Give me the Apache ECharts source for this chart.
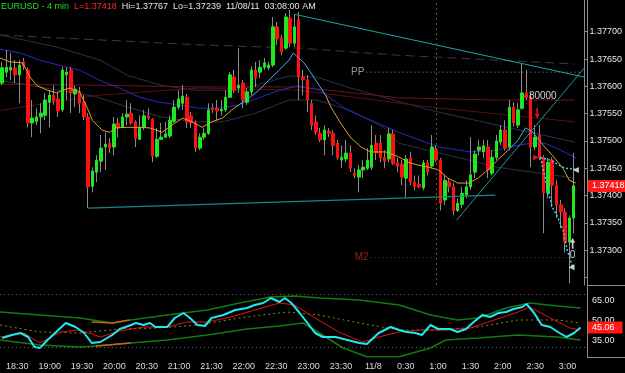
<!DOCTYPE html>
<html><head><meta charset="utf-8">
<script src="https://cdn.jsdelivr.net/npm/echarts@6/dist/echarts.min.js"></script>
<style>html,body{margin:0;padding:0;background:#000;}#c{width:625px;height:373px;}</style>
</head><body><div id="c"></div>
<script>
// ---- candle data: [open, close, low, high], 4-minute bars starting 18:16 ----
const START_MIN = 1096;   // 18:16 (minutes from midnight of 11/07)
const STEP_MIN = 4;
const EMPTY_SLOTS = 2;
const ohlc = [
[1.37606,1.37634,1.37602,1.37645],[1.37626,1.37635,1.37617,1.37667],[1.37630,1.37635,1.37612,1.37661],
[1.37634,1.37621,1.37606,1.37648],[1.37621,1.37639,1.37569,1.37648],[1.37645,1.37637,1.37630,1.37652],
[1.37630,1.37533,1.37525,1.37634],[1.37533,1.37542,1.37507,1.37575],[1.37536,1.37544,1.37529,1.37560],
[1.37544,1.37551,1.37514,1.37569],[1.37547,1.37575,1.37538,1.37588],[1.37571,1.37584,1.37525,1.37593],
[1.37584,1.37573,1.37566,1.37602],[1.37577,1.37555,1.37544,1.37590],[1.37557,1.37630,1.37553,1.37635],
[1.37621,1.37626,1.37575,1.37635],[1.37630,1.37588,1.37551,1.37635],[1.37586,1.37595,1.37562,1.37602],
[1.37590,1.37569,1.37551,1.37599],[1.37571,1.37544,1.37538,1.37584],[1.37544,1.37416,1.37377,1.37551],
[1.37417,1.37445,1.37406,1.37452],[1.37443,1.37465,1.37425,1.37474],[1.37463,1.37487,1.37443,1.37511],
[1.37489,1.37494,1.37447,1.37516],[1.37496,1.37487,1.37478,1.37505],[1.37489,1.37531,1.37474,1.37544],
[1.37533,1.37524,1.37507,1.37542],[1.37525,1.37544,1.37524,1.37551],[1.37544,1.37549,1.37529,1.37575],
[1.37551,1.37533,1.37529,1.37569],[1.37535,1.37505,1.37489,1.37538],[1.37503,1.37525,1.37502,1.37547],
[1.37525,1.37546,1.37520,1.37557],[1.37546,1.37542,1.37538,1.37560],[1.37540,1.37472,1.37461,1.37542],
[1.37472,1.37503,1.37469,1.37524],[1.37503,1.37507,1.37502,1.37533],[1.37507,1.37513,1.37505,1.37535],
[1.37509,1.37538,1.37505,1.37547],[1.37536,1.37562,1.37533,1.37575],[1.37562,1.37577,1.37557,1.37593],
[1.37569,1.37582,1.37557,1.37602],[1.37580,1.37535,1.37524,1.37586],[1.37546,1.37533,1.37524,1.37553],
[1.37533,1.37487,1.37480,1.37538],[1.37487,1.37507,1.37483,1.37514],[1.37507,1.37514,1.37502,1.37524],
[1.37514,1.37557,1.37511,1.37569],[1.37560,1.37557,1.37551,1.37569],[1.37560,1.37555,1.37538,1.37575],
[1.37555,1.37558,1.37547,1.37575],[1.37557,1.37580,1.37553,1.37593],[1.37580,1.37621,1.37579,1.37626],
[1.37617,1.37593,1.37588,1.37630],[1.37597,1.37602,1.37588,1.37670],[1.37606,1.37575,1.37560,1.37612],
[1.37571,1.37590,1.37566,1.37597],[1.37590,1.37630,1.37584,1.37637],[1.37630,1.37615,1.37599,1.37645],
[1.37626,1.37635,1.37615,1.37648],[1.37635,1.37643,1.37630,1.37652],[1.37634,1.37639,1.37630,1.37645],
[1.37639,1.37709,1.37635,1.37727],[1.37709,1.37687,1.37676,1.37718],[1.37689,1.37663,1.37657,1.37694],
[1.37670,1.37727,1.37667,1.37734],[1.37725,1.37679,1.37672,1.37740],[1.37679,1.37709,1.37672,1.37732],
[1.37722,1.37617,1.37575,1.37736],[1.37617,1.37612,1.37584,1.37630],[1.37612,1.37575,1.37553,1.37621],
[1.37569,1.37529,1.37520,1.37575],[1.37535,1.37516,1.37511,1.37547],[1.37514,1.37502,1.37498,1.37524],
[1.37502,1.37520,1.37474,1.37529],[1.37518,1.37514,1.37507,1.37524],[1.37514,1.37492,1.37474,1.37520],
[1.37496,1.37469,1.37465,1.37502],[1.37465,1.37470,1.37450,1.37492],[1.37467,1.37478,1.37461,1.37502],
[1.37478,1.37450,1.37443,1.37492],[1.37441,1.37437,1.37432,1.37450],[1.37434,1.37447,1.37406,1.37456],
[1.37447,1.37452,1.37432,1.37465],[1.37450,1.37465,1.37447,1.37487],[1.37452,1.37492,1.37447,1.37529],
[1.37496,1.37478,1.37465,1.37511],[1.37496,1.37469,1.37461,1.37511],[1.37470,1.37463,1.37450,1.37483],
[1.37467,1.37513,1.37461,1.37524],[1.37513,1.37459,1.37456,1.37520],[1.37460,1.37454,1.37443,1.37469],
[1.37458,1.37434,1.37419,1.37465],[1.37432,1.37467,1.37397,1.37474],[1.37469,1.37425,1.37419,1.37480],
[1.37425,1.37417,1.37410,1.37437],[1.37421,1.37416,1.37414,1.37437],[1.37414,1.37460,1.37410,1.37465],
[1.37460,1.37443,1.37437,1.37465],[1.37454,1.37489,1.37450,1.37511],[1.37485,1.37465,1.37461,1.37492],
[1.37465,1.37386,1.37373,1.37469],[1.37392,1.37428,1.37383,1.37438],[1.37425,1.37416,1.37406,1.37432],
[1.37416,1.37372,1.37364,1.37423],[1.37373,1.37386,1.37370,1.37395],[1.37384,1.37404,1.37377,1.37416],
[1.37401,1.37416,1.37395,1.37428],[1.37416,1.37438,1.37410,1.37507],[1.37443,1.37476,1.37432,1.37483],
[1.37483,1.37489,1.37474,1.37502],[1.37480,1.37491,1.37469,1.37502],[1.37489,1.37447,1.37432,1.37502],
[1.37441,1.37470,1.37437,1.37483],[1.37470,1.37500,1.37465,1.37511],[1.37498,1.37520,1.37492,1.37529],
[1.37520,1.37487,1.37483,1.37538],[1.37489,1.37562,1.37483,1.37575],[1.37562,1.37533,1.37527,1.37571],
[1.37529,1.37557,1.37524,1.37569],[1.37560,1.37588,1.37557,1.37641],[1.37588,1.37580,1.37575,1.37630],
[1.37580,1.37489,1.37452,1.37588],[1.37489,1.37507,1.37483,1.37529],[1.37511,1.37470,1.37465,1.37529],
[1.37470,1.37405,1.37331,1.37474],[1.37405,1.37461,1.37395,1.37469],[1.37465,1.37419,1.37379,1.37470],
[1.37419,1.37383,1.37359,1.37428],[1.37383,1.37370,1.37340,1.37392],[1.37370,1.37315,1.37296,1.37377],
[1.37315,1.37359,1.37240,1.37364],[1.37359,1.37418,1.37331,1.37478]
];

// ---- price-pane indicator lines: [minute, price] ----
const ma20Orange1 = [[1094,1.37652],[1103,1.37645],[1115,1.37643],[1122,1.37617],[1128,1.37602],[1138,1.37593],[1147,1.37588],[1152,1.37593],[1159,1.37597],[1168,1.37590],[1175,1.37562],[1180,1.37538],[1189,1.37520],[1196,1.37516],[1202,1.37524],[1212,1.37525],[1224,1.37525],[1233,1.37524],[1245,1.37516],[1254,1.37529],[1264,1.37542],[1273,1.37535],[1282,1.37525],[1291,1.37535],[1301,1.37542],[1310,1.37557],[1316,1.37566]];
const ma20Blue1 = [[1316,1.37566],[1326,1.37579],[1335,1.37593],[1344,1.37611],[1354,1.37630],[1363,1.37648],[1367,1.37661],[1377,1.37643],[1386,1.37617],[1392,1.37599],[1397,1.37584]];
const ma20Orange2 = [[1397,1.37584],[1402,1.37562],[1411,1.37533],[1420,1.37507],[1430,1.37489],[1439,1.37480],[1453,1.37480],[1465,1.37471],[1474,1.37461],[1483,1.37456],[1493,1.37452],[1502,1.37447],[1511,1.37432],[1520,1.37423],[1530,1.37423],[1539,1.37432],[1548,1.37447],[1557,1.37465],[1569,1.37487]];
const ma20Blue2 = [[1569,1.37487],[1576,1.37501],[1583,1.37524],[1590,1.37516],[1596,1.37501],[1601,1.37489]];
const ma20Orange3 = [[1601,1.37489],[1608,1.37474],[1618,1.37450],[1624,1.37428],[1630,1.37423]];
const ma50 = [[1094,1.37668],[1113,1.37661],[1131,1.37648],[1156,1.37635],[1168,1.37630],[1187,1.37611],[1205,1.37597],[1224,1.37580],[1242,1.37571],[1261,1.37566],[1279,1.37560],[1298,1.37560],[1316,1.37566],[1335,1.37579],[1354,1.37593],[1372,1.37601],[1391,1.37593],[1418,1.37556],[1465,1.37516],[1502,1.37489],[1532,1.37480],[1557,1.37483],[1573,1.37491],[1588,1.37496],[1601,1.37496],[1616,1.37483],[1630,1.37469]];
const maLongDashed = [[1094,1.37694],[1187,1.37685],[1279,1.37676],[1372,1.37670],[1465,1.37657],[1557,1.37648],[1629,1.37641]];
const bandUpper = [[1094,1.37694],[1147,1.37672],[1187,1.37648],[1213,1.37620],[1244,1.37602],[1275,1.37593],[1316,1.37593],[1363,1.37619],[1389,1.37617],[1420,1.37597],[1451,1.37580],[1495,1.37556],[1557,1.37529],[1629,1.37498]];
const bandLower = [[1094,1.37611],[1182,1.37582],[1213,1.37562],[1244,1.37544],[1275,1.37535],[1301,1.37535],[1332,1.37551],[1363,1.37575],[1389,1.37575],[1420,1.37556],[1451,1.37525],[1465,1.37496],[1557,1.37452],[1629,1.37432]];
const maroonFlat = [[1094,1.37604],[1187,1.37602],[1279,1.37599],[1372,1.37599],[1465,1.37579],[1557,1.37575],[1629,1.37575]];
const maroonRise = [[1094,1.37556],[1187,1.37584],[1279,1.37597],[1372,1.37593],[1495,1.37562],[1629,1.37535]];

// ---- drawn objects ----
const trendTop = [[1368,1.37732],[1638,1.37617]];
const trendRise = [[1519,1.37355],[1638,1.37634]];
const trendBottom = [[1176,1.37377],[1555,1.37401]];
const zigA = [[1597,1.37470],[1606,1.37465],[1620,1.37450],[1629,1.37449]];
const zigB = [[1597,1.37470],[1604,1.37410],[1608,1.37379],[1613,1.37361],[1618,1.37337],[1622,1.37300],[1627,1.37269]];
const pivotPP = {price:1.37626, from:1435, to:1634, label:'PP'};
const pivotM2 = {price:1.37287, from:1439, to:1622, label:'M2'};
const sessionLine = 1500;
const lastPrice = 1.37418;

// ---- oscillator pane ----
const oscFast = [[1096,37.25],[1105,39.5],[1113,41],[1120,38],[1126,30.5],[1131,29.75],[1138,35.75],[1146,41.75],[1155,48.5],[1164,45.5],[1172,41],[1179,33.5],[1187,34.25],[1198,39.5],[1205,44],[1213,46.25],[1220,48.5],[1227,47],[1233,48.5],[1238,45.5],[1249,45.5],[1256,52.25],[1264,56],[1270,52.25],[1277,47],[1284,46.25],[1290,52.25],[1301,54.5],[1312,58.25],[1323,59.75],[1330,62],[1338,63.5],[1345,67.25],[1353,64.25],[1358,67.25],[1364,63.5],[1371,56.75],[1379,48.5],[1386,41],[1393,38],[1405,38],[1416,35.75],[1427,33.5],[1434,32.75],[1438,35.75],[1445,41],[1456,45.5],[1464,43.25],[1471,41.75],[1479,41],[1485,39.5],[1493,47],[1500,44],[1511,44],[1518,41.75],[1526,44],[1533,49.25],[1541,54.5],[1548,53],[1556,56],[1563,56.75],[1570,59],[1578,60.5],[1582,62.75],[1589,56],[1596,47],[1604,45.5],[1611,41.75],[1619,38],[1626,41],[1632,45.06]];
const oscSignal = [[1094,38],[1116,41],[1131,33.5],[1150,41.75],[1168,43.25],[1187,38],[1205,42.5],[1227,45.5],[1249,45.5],[1267,49.25],[1286,49.25],[1308,53],[1330,58.25],[1353,63.5],[1367,62],[1386,52.25],[1408,41.75],[1430,34.25],[1445,38],[1464,41.75],[1485,43.25],[1507,43.25],[1530,44.75],[1552,50.75],[1574,56.75],[1585,60.5],[1604,52.25],[1622,44.75],[1632,43.25]];
const oscUpper = [[1094,56.75],[1131,54.5],[1168,52.25],[1198,48.5],[1215,50.75],[1249,54.5],[1286,58.25],[1316,63.5],[1345,68],[1367,68.75],[1390,67.25],[1427,65.75],[1464,62],[1493,54.5],[1518,50.75],[1537,52.25],[1563,59.75],[1585,63.5],[1611,61.25],[1632,59.75]];
const oscUpperHot = [[1179,49.25],[1198,48.5],[1214,50.75]];
const oscLower = [[1094,35.75],[1131,32],[1168,30.5],[1183,31.25],[1215,33.5],[1249,35.75],[1286,39.5],[1323,44],[1353,46.25],[1375,48.5],[1390,41],[1412,29.75],[1434,23.2],[1464,23.2],[1493,29.75],[1507,35.75],[1537,37.25],[1574,39.5],[1611,38],[1632,35.75]];
const oscLowerHot = [[1183,31.25],[1199,32.3],[1215,33.5]];
const oscMid = [[1094,47],[1131,41.75],[1168,41],[1205,44],[1241,44.75],[1278,47],[1316,52.25],[1360,56.75],[1390,54.5],[1427,48.5],[1464,43.25],[1500,43.25],[1537,45.5],[1574,50.75],[1611,50.75],[1632,48.5]];
const oscLast = 45.06;
const oscLevels = [70, 30];

// ---- axis labels ----
const priceTicks = [1.373,1.3735,1.374,1.3745,1.375,1.3755,1.376,1.3765,1.377];
const oscTicks = [35,50,65];
const timeTicks = [1110,1140,1170,1200,1230,1260,1290,1320,1350,1380,1410,1440,1470,1500,1530,1560,1590,1620];

const N = ohlc.length + EMPTY_SLOTS;
const cats = [];
for (let i = 0; i < N; i++) cats.push(String(START_MIN + i*STEP_MIN));
const xMin = START_MIN - STEP_MIN/2, xMax = xMin + N*STEP_MIN;
const bodies = ohlc.map(d => [d[0], d[1], Math.min(d[0], d[1]), Math.max(d[0], d[1])]);

function fmtTime(m){
  if (m === 1440) return '11/8';
  const mm = ((m % 1440) + 1440) % 1440;
  const h = Math.floor(mm/60), n = mm % 60;
  return h + ':' + (n < 10 ? '0' : '') + n;
}
const FONT = 'Liberation Sans, Arial, sans-serif';
const CLEAR = 'rgba(0,0,0,0)';
function ln(data, color, width, type, z){
  return {type:'line', xAxisIndex:1, yAxisIndex:0, data, symbol:'none', silent:true, animation:false, z:z||3,
          lineStyle:{color, width:width||1, type:type||'solid'}};
}
function oln(data, color, width, type, z){
  return {type:'line', xAxisIndex:2, yAxisIndex:1, data, symbol:'none', silent:true, animation:false, z:z||3,
          lineStyle:{color, width:width||1, type:type||'solid'}};
}
const ARROW_DOWN = 'path://M2,0 L4,0 L4,6 L6,6 L3,11 L0,6 L2,6 Z';
const ARROW_UP = 'path://M2,11 L4,11 L4,5 L6,5 L3,0 L0,5 L2,5 Z';
const TRI_LEFT = 'path://M8,0 L8,8 L0,4 Z';
const TRI_RIGHT = 'path://M0,0 L0,8 L8,4 Z';

const chart = echarts.init(document.getElementById('c'), null, {renderer:'canvas'});
const option = {
  backgroundColor:'#000000',
  animation:false,
  textStyle:{fontFamily:FONT},
  title:{left:1, top:2, padding:0, text:'{g|EURUSD - 4 min}  {r|L=1.37418}  {w|Hi=1.37767}  {w|Lo=1.37239}  {w|11/08/11}  {w|03:08:00 AM}',
    textStyle:{fontSize:9, fontFamily:FONT, fontWeight:'normal', rich:{
      g:{color:'#22dd22', fontSize:9, fontFamily:FONT},
      r:{color:'#ff2a2a', fontSize:9, fontFamily:FONT},
      w:{color:'#e6e6e6', fontSize:9, fontFamily:FONT}}}},
  grid:[
    {left:0, top:0, width:587, height:285, containLabel:false},
    {left:0, top:290, width:587, height:67, containLabel:false}
  ],
  xAxis:[
    {type:'category', gridIndex:0, data:cats, boundaryGap:true, show:false},
    {type:'value', gridIndex:0, min:xMin, max:xMax, show:false},
    {type:'value', gridIndex:1, min:xMin, max:xMax, position:'bottom',
      axisLine:{show:false}, axisTick:{show:false}, splitLine:{show:false},
      axisLabel:{customValues:timeTicks, formatter:fmtTime, color:'#dcdcdc', fontSize:9, fontFamily:FONT, margin:5}}
  ],
  yAxis:[
    {type:'value', gridIndex:0, position:'right', min:1.372364, max:1.377581, scale:true,
      axisLine:{show:true, lineStyle:{color:'#8a8a8a'}},
      axisTick:{show:true, customValues:priceTicks.concat([1.3725]), length:3, inside:false, lineStyle:{color:'#8a8a8a'}},
      splitLine:{show:false},
      axisLabel:{customValues:priceTicks, formatter:v=>v.toFixed(5), color:'#e6e6e6', fontSize:9, fontFamily:FONT, margin:5}},
    {type:'value', gridIndex:1, position:'right', min:23, max:73.25,
      axisLine:{show:true, lineStyle:{color:'#8a8a8a'}},
      axisTick:{show:false}, splitLine:{show:false},
      axisLabel:{customValues:oscTicks, formatter:v=>v.toFixed(2), color:'#e6e6e6', fontSize:9, fontFamily:FONT, margin:5}}
  ],
  series:[
    ln(maLongDashed, '#3c3c3c', 1, [9,5], 1),
    ln(bandUpper, '#1f3646', 1, 'solid', 1),
    ln(bandLower, '#1f3646', 1, 'solid', 1),
    ln(maroonFlat, '#6e1414', 1, 'solid', 1),
    ln(maroonRise, '#561010', 1, 'solid', 1),
    ln(ma50, '#2a2ac0', 1, 'solid', 1),
    {type:'candlestick', xAxisIndex:0, yAxisIndex:0, data:ohlc, barWidth:1, z:2, silent:true,
      itemStyle:{color:'#8c8c8c', color0:'#8c8c8c', borderColor:'#8c8c8c', borderColor0:'#8c8c8c', borderWidth:1}},
    {type:'candlestick', xAxisIndex:0, yAxisIndex:0, data:bodies, barWidth:3, z:3, silent:true,
      itemStyle:{color:'#1ee81e', color0:'#ff1010', borderColor:'#1ee81e', borderColor0:'#ff1010', borderWidth:1}},
    ln(ma20Orange1, '#e0a030', 1, 'solid', 4),
    ln(ma20Blue1, '#48aee6', 1, 'solid', 4),
    ln(ma20Orange2, '#e0a030', 1, 'solid', 4),
    ln(ma20Blue2, '#48aee6', 1, 'solid', 4),
    ln(ma20Orange3, '#e0a030', 1, 'solid', 4),
    ln(trendTop, '#1fa5a5', 1, 'solid', 4),
    ln(trendRise, '#1f9a9a', 1, 'solid', 4),
    ln(trendBottom, '#1a8585', 1.2, 'solid', 4),
    ln(zigA, '#33d6ee', 1.5, [2,2], 5),
    ln(zigB, '#33d6ee', 1.5, [2,2], 5),
    Object.assign(ln([[pivotPP.from,pivotPP.price],[pivotPP.to,pivotPP.price]], '#909090', 1, [1,3], 6), {
      markLine:{symbol:'none', silent:true, animation:false,
        data:[
          [{coord:[pivotPP.from,pivotPP.price], lineStyle:{color:CLEAR, width:0},
            label:{show:true, position:'start', formatter:pivotPP.label, color:'#9a9a9a', fontSize:10, fontFamily:FONT, distance:2}},
           {coord:[pivotPP.to,pivotPP.price]}],
          [{coord:[pivotM2.from,pivotM2.price], lineStyle:{color:'#8e1c1c', type:[1,3], width:1},
            label:{show:true, position:'start', formatter:pivotM2.label, color:'#a01c1c', fontSize:10, fontFamily:FONT, distance:2}},
           {coord:[pivotM2.to,pivotM2.price]}],
          {xAxis:sessionLine, lineStyle:{color:'#5a5a22', type:[2,3], width:1}, label:{show:false}}
        ]}}),
    {type:'scatter', xAxisIndex:1, yAxisIndex:0, z:6, silent:true, animation:false,
      data:[
        {value:[1583,1.37582], symbol:'rect', symbolSize:[3,3], itemStyle:{color:'#ff2020'},
          label:{show:true, position:'right', distance:2, formatter:'80000', color:'#ffffff', fontSize:10, fontFamily:FONT}},
        {value:[1594,1.37551], symbol:ARROW_DOWN, symbolSize:[5,11], itemStyle:{color:'#ff2020'}},
        {value:[1593,1.37470], symbol:TRI_RIGHT, symbolSize:[6,6], itemStyle:{color:'#ff2020'}},
        {value:[1627,1.37313], symbol:ARROW_UP, symbolSize:[5,11], itemStyle:{color:'#ffffff'}},
        {value:[1627,1.37290], symbol:'rect', symbolSize:[0,0],
          label:{show:true, position:'inside', formatter:'0', color:'#ffffff', fontSize:10, fontFamily:FONT}},
        {value:[1630,1.37447], symbol:TRI_LEFT, symbolSize:[6,6], itemStyle:{color:'#ffffff'}},
        {value:[1626,1.37269], symbol:TRI_LEFT, symbolSize:[6,6], itemStyle:{color:'#ffffff'}}
      ]},
    oln(oscMid, '#8a8a10', 1, [2,3], 2),
    oln(oscUpper, '#137a13', 1.5, 'solid', 2),
    oln(oscLower, '#137a13', 1.5, 'solid', 2),
    oln(oscUpperHot, '#c86414', 1.5, 'solid', 2),
    oln(oscLowerHot, '#c86414', 1.5, 'solid', 2),
    oln(oscSignal, '#e01414', 1, 'solid', 3),
    Object.assign(oln(oscFast, '#22e8f0', 2, 'solid', 4), {
      markLine:{symbol:'none', silent:true, animation:false,
        data:[
          {yAxis:oscLevels[0], lineStyle:{color:'#6a6a6a', type:[1,3], width:1}, label:{show:false}},
          {yAxis:oscLevels[1], lineStyle:{color:'#6a6a6a', type:[1,3], width:1}, label:{show:false}},
          {yAxis:oscLast, lineStyle:{color:CLEAR, width:0}, label:{show:true, position:'end', distance:1, formatter:'45.06',
             color:'#ffffff', backgroundColor:'#ff1a1a', padding:[2,8,1,4], fontSize:9, fontFamily:FONT}}
        ]}})
  ],
  graphic:[
    {type:'line', shape:{x1:587.5, y1:285.5, x2:625, y2:285.5}, style:{stroke:'#8a8a8a', lineWidth:1}, silent:true},
    {type:'line', shape:{x1:587.5, y1:357.5, x2:625, y2:357.5}, style:{stroke:'#8a8a8a', lineWidth:1}, silent:true},
    {type:'line', shape:{x1:587.5, y1:0, x2:587.5, y2:358}, style:{stroke:'#8a8a8a', lineWidth:1}, silent:true}
  ]
};
chart.setOption(option);

// last-price box on the price axis, placed through the price scale
const yLast = chart.convertToPixel({yAxisIndex:0}, lastPrice);
chart.setOption({graphic:[
  {type:'line', shape:{x1:587.5, y1:285.5, x2:625, y2:285.5}, style:{stroke:'#8a8a8a', lineWidth:1}, silent:true},
  {type:'line', shape:{x1:587.5, y1:357.5, x2:625, y2:357.5}, style:{stroke:'#8a8a8a', lineWidth:1}, silent:true},
  {type:'line', shape:{x1:587.5, y1:0, x2:587.5, y2:358}, style:{stroke:'#8a8a8a', lineWidth:1}, silent:true},
  {type:'rect', z:100, shape:{x:588, y:Math.round(yLast)-6, width:37, height:12}, style:{fill:'#ff1a1a'}, silent:true},
  {type:'text', z:101, x:592, y:Math.round(yLast), style:{text:lastPrice.toFixed(5), fill:'#ffffff', font:'9px ' + FONT, verticalAlign:'middle', align:'left'}, silent:true}
]});
</script>
</body></html>
